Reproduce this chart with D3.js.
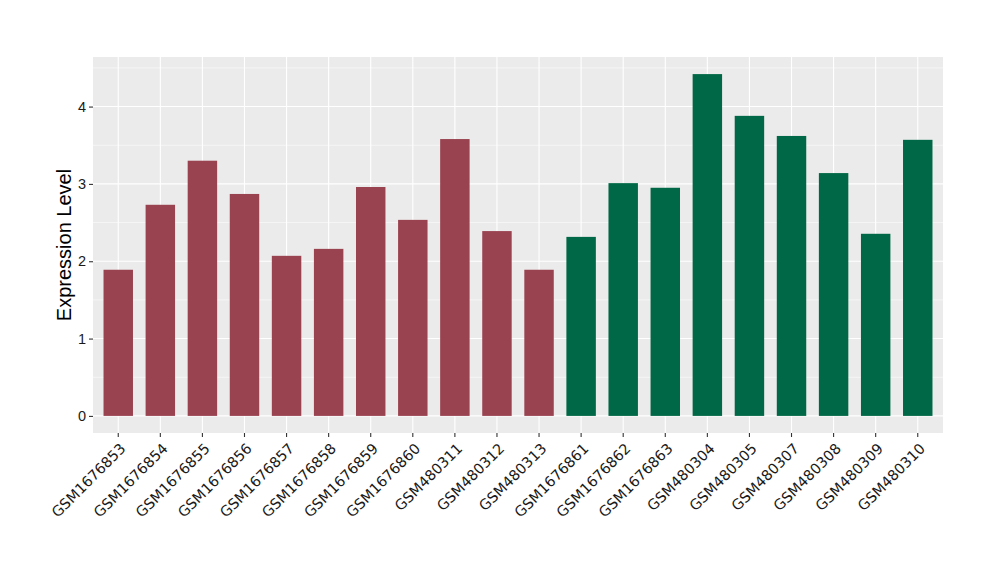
<!DOCTYPE html>
<html>
<head>
<meta charset="utf-8">
<script src="https://cdn.jsdelivr.net/npm/d3@7"></script>
<style>
body { margin: 0; background: #fff; }
svg { display: block; }
</style>
</head>
<body>
<svg id="chart" width="1000" height="580"></svg>
<script>
const samples = ["GSM1676853","GSM1676854","GSM1676855","GSM1676856","GSM1676857","GSM1676858","GSM1676859","GSM1676860","GSM480311","GSM480312","GSM480313","GSM1676861","GSM1676862","GSM1676863","GSM480304","GSM480305","GSM480307","GSM480308","GSM480309","GSM480310"];
const values = [1.89, 2.73, 3.30, 2.87, 2.07, 2.16, 2.96, 2.535, 3.58, 2.39, 1.89, 2.315, 3.01, 2.95, 4.42, 3.88, 3.62, 3.14, 2.355, 3.57];
const groups = ["A","A","A","A","A","A","A","A","A","A","A","B","B","B","B","B","B","B","B","B"];
const groupColors = {A: "#9A4350", B: "#006846"};
const yTicks = [0, 1, 2, 3, 4];
const yMinor = [0.5, 1.5, 2.5, 3.5, 4.5];
const yLabel = "Expression Level";

(function () {
const svg = d3.select("#chart");
const pL = 93, pR = 943, pT = 57, pB = 433;

const maxV = d3.max(values);
const pad = maxV * 0.05;
const y = d3.scaleLinear().domain([-pad, maxV + pad]).range([pB, pT]);
const x = d3.scaleBand().domain(samples).range([pL, pR]).paddingInner(0.3).paddingOuter(0.25);

svg.append("rect").attr("x", pL).attr("y", pT).attr("width", pR - pL).attr("height", pB - pT).attr("fill", "#EBEBEB");

svg.append("g").selectAll("line").data(yMinor.filter(v => y(v) >= pT)).join("line")
  .attr("x1", pL).attr("x2", pR).attr("y1", d => y(d)).attr("y2", d => y(d))
  .attr("stroke", "#fff").attr("stroke-width", 0.55);
svg.append("g").selectAll("line").data(yTicks).join("line")
  .attr("x1", pL).attr("x2", pR).attr("y1", d => y(d)).attr("y2", d => y(d))
  .attr("stroke", "#fff").attr("stroke-width", 1.1);
svg.append("g").selectAll("line").data(samples).join("line")
  .attr("x1", d => x(d) + x.bandwidth() / 2).attr("x2", d => x(d) + x.bandwidth() / 2)
  .attr("y1", pT).attr("y2", pB)
  .attr("stroke", "#fff").attr("stroke-width", 1.1);

svg.append("g").selectAll("rect").data(samples).join("rect")
  .attr("x", d => x(d)).attr("width", x.bandwidth())
  .attr("y", (d, i) => y(values[i])).attr("height", (d, i) => y(0) - y(values[i]))
  .attr("fill", (d, i) => groupColors[groups[i]]);

const yAxis = d3.axisLeft(y).tickValues(yTicks).tickSize(4).tickPadding(3).tickFormat(d3.format("d"));
const gy = svg.append("g").attr("transform", `translate(${pL},0)`).call(yAxis)
  .attr("font-family", "Liberation Sans, Arial, sans-serif").attr("font-size", 14.5);
gy.select(".domain").remove();
gy.selectAll(".tick line").attr("stroke", "#333").attr("stroke-width", 1.1);
gy.selectAll(".tick text").attr("fill", "#1a1a1a");

const xAxis = d3.axisBottom(x).tickSize(4).tickPadding(3);
const gx = svg.append("g").attr("transform", `translate(0,${pB})`).call(xAxis)
  .attr("font-family", "DejaVu Sans, sans-serif").attr("font-size", 14.5);
gx.select(".domain").remove();
gx.selectAll(".tick line").attr("stroke", "#333").attr("stroke-width", 1.1);
gx.selectAll(".tick text")
  .attr("fill", "#1a1a1a")
  .attr("text-anchor", "end")
  .attr("dy", "0.72em")
  .attr("y", 0)
  .attr("transform", "translate(1,9) rotate(-45)");

svg.append("text")
  .attr("transform", `translate(71,${(pT + pB) / 2}) rotate(-90)`)
  .attr("text-anchor", "middle")
  .attr("font-family", "Liberation Sans, Arial, sans-serif")
  .attr("font-size", 20)
  .attr("fill", "#000")
  .text(yLabel);
})();
</script>
</body>
</html>
